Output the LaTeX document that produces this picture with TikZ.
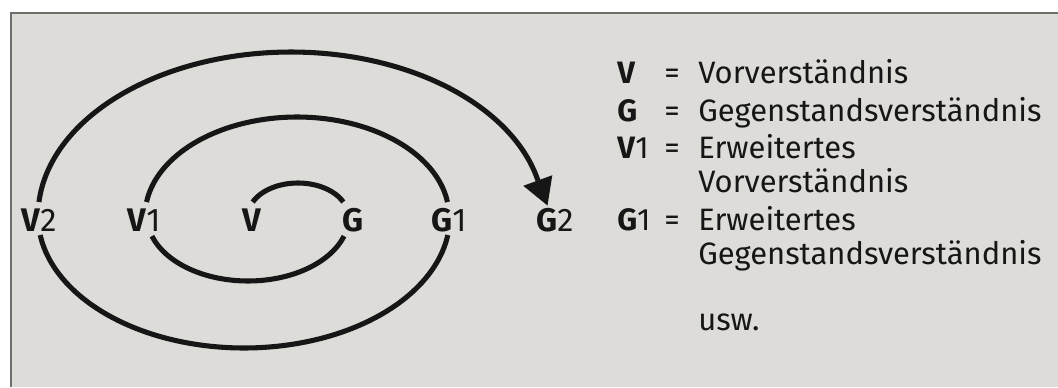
\documentclass[tikz,border=0pt]{standalone}
\usepackage{fontspec}
\setmainfont{Fira Sans}
\definecolor{paper}{RGB}{221,220,217}
\definecolor{ink}{RGB}{22,22,22}
\definecolor{edge}{RGB}{110,110,108}
\begin{document}
\begin{tikzpicture}[x=0.75pt,y=-0.75pt,
  spiral/.style={draw=ink, line width=3.8pt},
  lbl/.style={font=\fontsize{24.5}{24.5}\selectfont, text=ink, inner sep=0pt},
  keyl/.style={font=\fontsize{23.2}{23.2}\selectfont, text=ink, inner sep=0pt, anchor=base west}]
% page background
\useasboundingbox (0,0) rectangle (1058,387);
\fill[white] (0,0) rectangle (1058,387);
\fill[paper] (11,13) rectangle (1058,387);
\draw[edge, line width=1pt] (11,387) -- (11,13) -- (1058,13);

% spiral: alternating half-ellipses around two centres
\draw[spiral] plot[smooth, domain=205:335, samples=25] ({298+50*cos(\x)},{216+33*sin(\x)});
\draw[spiral] plot[smooth, domain=18:162, samples=30] ({248+101*cos(\x)},{216+65*sin(\x)});
\draw[spiral] plot[smooth, domain=188.1:351.9, samples=40] ({297+152*cos(\x)},{216+99*sin(\x)});
\draw[spiral] plot[smooth, domain=8.3:171.7, samples=45] ({244+206*cos(\x)},{216+132*sin(\x)});
\draw[spiral] plot[smooth, domain=184.9:347.5, samples=50] ({291+253*cos(\x)},{216+164*sin(\x)});
% arrowhead at the open end of the spiral
\coordinate (tipbase) at (537.8,180.5);
\fill[ink] (523.3,185.8) -- (552.3,175.2) -- (547.5,205.5) -- cycle;

% labels on the spiral
\node[lbl, anchor=base west] (v2) at (21,231) {\textbf{V}2};
\node[lbl, anchor=base west] (v1) at (127,231) {\textbf{V}1};
\node[lbl, anchor=base] (v) at (252,231) {\textbf{V}};
\node[lbl, anchor=base] (g) at (353,231) {\textbf{G}};
\node[lbl, anchor=base west] (g1) at (431,231) {\textbf{G}1};
\node[lbl, anchor=base west] (g2) at (536,231) {\textbf{G}2};

% legend
\node[keyl] (kv) at (617,83.5) {\textbf{V}};
\node[keyl] (ev) at (664,83.5) {=};
\node[keyl] (tv) at (698,83.5) {Vorverständnis};
\node[keyl] (kg) at (617,121.5) {\textbf{G}};
\node[keyl] (eg) at (664,121.5) {=};
\node[keyl] (tg) at (698,121.5) {Gegenstandsverständnis};
\node[keyl] (kv1) at (617,158.5) {\textbf{V}1};
\node[keyl] (ev1) at (664,158.5) {=};
\node[keyl] (tv1) at (698,158.5) {Erweitertes};
\node[keyl] (tv1b) at (698,192.5) {Vorverständnis};
\node[keyl] (kg1) at (617,230.5) {\textbf{G}1};
\node[keyl] (eg1) at (664,230.5) {=};
\node[keyl] (tg1) at (698,230.5) {Erweitertes};
\node[keyl] (tg1b) at (698,264.5) {Gegenstandsverständnis};
\node[keyl] (usw) at (698,330) {usw.};
\end{tikzpicture}
\end{document}
